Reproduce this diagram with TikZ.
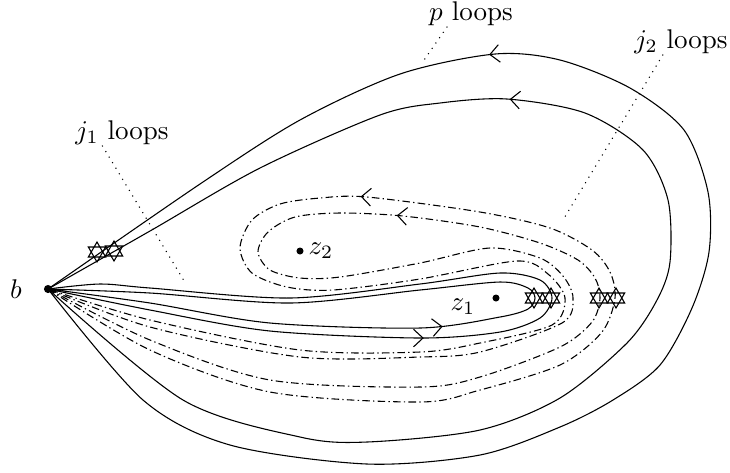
\documentclass[tikz,border=0pt]{standalone}
\usepackage{amsmath,amssymb}
\usepackage{tikz}
\usetikzlibrary{positioning,arrows.meta,calc,decorations.markings}
\tikzset{
    puncture/.style={circle,fill,inner sep=0pt,minimum size=2.6pt},
    tag/.style={inner sep=0pt},
    pointer/.style={dotted},
    jtwo/.style={dash pattern=on 2.8pt off 1.2pt on 0.5pt off 1.2pt},
    flow/.style={postaction={decorate},decoration={markings,
        mark=at position #1 with {\arrow{Straight Barb[length=3.5pt,width=6.5pt]}}}},
    hexstar/.pic={\draw (90:10) -- (210:10) -- (330:10) -- cycle
        (270:10) -- (30:10) -- (150:10) -- cycle;},
}

\begin{document}
\begin{tikzpicture}[x=0.013cm,y=-0.013cm]
    \useasboundingbox (0,0) rectangle (730,472);

    \node[puncture,minimum size=3pt] (b) at (48,289) {};
    \node[left=4.5pt of b] {$b$};
    \node[puncture] (z1) at (496,298) {};
    \node[tag] at (463,307) {$z_1$};
    \node[puncture] (z2) at (300,251) {};
    \node[right=0pt of z2,inner sep=1.5pt] {$z_2$};

    % p loops
    \draw[flow=0.698] plot[smooth] coordinates {(b.center) (143,400) (230,445) (367,464)
        (480,455) (560,427) (613,400) (660,365) (692,308) (709,252) (708,192) (684,130)
        (630,88) (560,60) (495,54) (400,74) (300,120) (200,184) (b.center)};
    \draw[flow=0.666] plot[smooth] coordinates {(b.center) (183,400) (300,437) (367,442)
        (480,430) (560,398) (627,343) (657,300) (670,262) (668,200) (643,150) (585,113)
        (507,99) (440,103) (380,115) (260,168) (150,231) (b.center)};

    % j2 loops
    \draw[jtwo,flow=0.468] plot[smooth] coordinates {(b.center) (150,350) (270,392)
        (420,402) (480,390) (560,365) (602,332) (615,298) (610,272) (592,250) (550,228)
        (480,212) (367,197) (320,198) (280,204) (252,220) (240,248) (252,273) (287,287)
        (333,290) (420,279) (517,261) (548,274) (565,298) (552,325) (480,343) (420,352)
        (300,350) (150,320) (b.center)};
    \draw[jtwo,flow=0.44] plot[smooth] coordinates {(b.center) (150,340) (270,380)
        (420,387) (480,377) (560,347) (592,322) (600,298) (595,278) (578,260) (540,243)
        (480,227) (403,216) (340,213) (295,217) (268,232) (258,252) (270,270) (300,278)
        (340,277) (420,263) (490,248) (540,258) (563,276) (573,298) (562,323) (480,352)
        (420,357) (300,357) (150,327) (b.center)};

    % j1 loops
    \draw[flow=0.40] plot[smooth] coordinates {(b.center) (150,303) (270,323) (420,328)
        (500,317) (528,309) (535,298) (528,288) (500,282) (420,290) (290,303) (150,293)
        (b.center)};
    \draw[flow=0.365] plot[smooth] coordinates {(b.center) (150,310) (270,331) (420,338)
        (500,332) (540,318) (552,298) (540,280) (500,273) (420,284) (290,298) (150,288)
        (100,284) (b.center)};

    \pic at (97,252) {hexstar};
    \pic at (114,251) {hexstar};
    \pic at (534,298) {hexstar};
    \pic at (551,298) {hexstar};
    \pic at (599,298) {hexstar};
    \pic at (616,298) {hexstar};

    \node[tag] (plab) at (471,14) {$p$ loops};
    \node[tag] (jtwolab) at (681,42) {$j_2$ loops};
    \node[tag] (jonelab) at (122,133) {$j_1$ loops};
    \coordinate (ptip) at (422,63);
    \coordinate (jtwotip) at (563,220);
    \coordinate (jonetip) at (186,284);
    \draw[pointer] ($(plab.south west)!0.22!(plab.south east)$) -- (ptip);
    \draw[pointer] ($(jtwolab.south west)!0.31!(jtwolab.south east)$) -- (jtwotip);
    \draw[pointer] ($(jonelab.south west)!0.29!(jonelab.south east)$) -- (jonetip);
\end{tikzpicture}
\end{document}
